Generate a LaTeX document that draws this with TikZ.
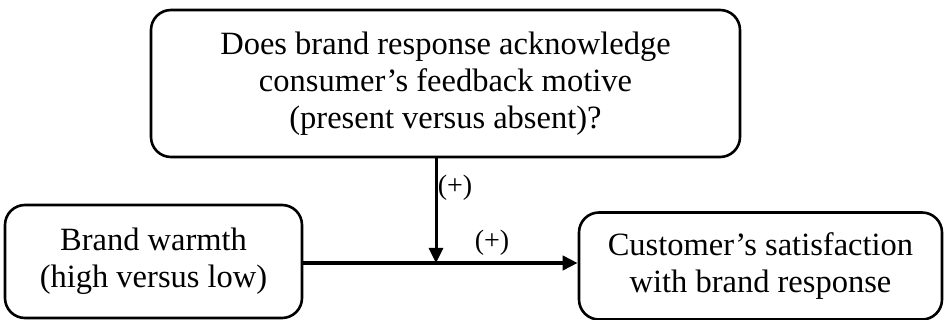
\documentclass[tikz,border=0pt]{standalone}
\usepackage{fontspec}
\setmainfont{Liberation Serif}
\usetikzlibrary{arrows.meta}
\begin{document}
\begin{tikzpicture}[x=1pt,y=-1pt,
  box/.style={draw,line width=2.6pt,rounded corners=20pt,align=center,
    font=\fontsize{32.5}{37}\selectfont,inner sep=0pt},
  lbl/.style={font=\fontsize{28}{30}\selectfont,inner sep=0pt},
  conn/.style={-{Triangle[length=15pt,width=14pt]}}]
\useasboundingbox (0,0) rectangle (945,320);
\node[box,minimum width=589pt,minimum height=147pt] (top) at (445.5,83.5)
  {Does brand response acknowledge\\consumer’s feedback motive\\(present versus absent)?};
\node[box,minimum width=297pt,minimum height=113pt] (left) at (153.5,261.5)
  {Brand warmth\\(high versus low)};
\node[box,minimum width=363pt,minimum height=107pt] (right) at (760.5,266)
  {Customer’s satisfaction\\with brand response};
\coordinate (mid) at (436,263);
\draw[conn,line width=4.5pt] (left.east |- mid) -- (right.west |- mid);
\draw[conn,line width=3pt] (top.south -| mid) -- (mid);
\node[lbl] (p1) at (455,188) {(+)};
\node[lbl] (p2) at (492,243) {(+)};
\end{tikzpicture}
\end{document}
